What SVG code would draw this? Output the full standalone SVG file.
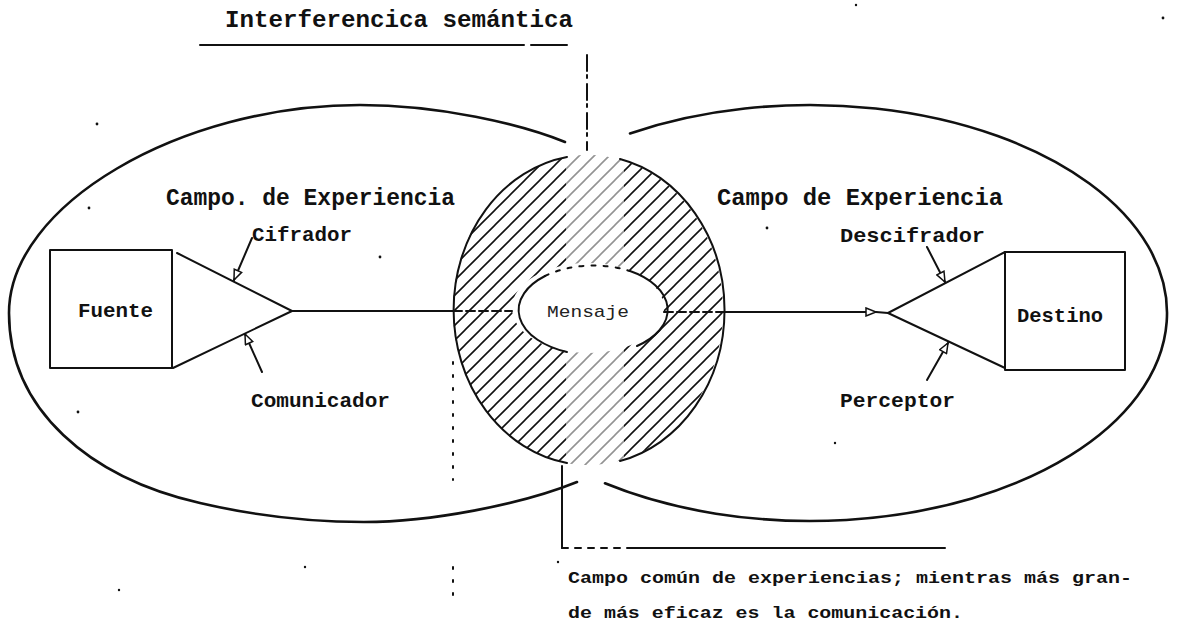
<svg xmlns="http://www.w3.org/2000/svg" width="1182" height="628" viewBox="0 0 1182 628">
  <style>
    .t { font-family: "Liberation Mono", "DejaVu Sans Mono", monospace; font-weight: bold; fill: #111; }
    .ln { fill: none; stroke: #111; stroke-width: 2; stroke-linecap: round; stroke-linejoin: round; }
    .field { fill: none; stroke: #111; stroke-width: 2.6; stroke-linecap: round; }
    .dot { fill: #111; }
  </style>
  <defs>
    <marker id="open" viewBox="0 0 12 10" refX="11" refY="5" markerWidth="13" markerHeight="10" markerUnits="userSpaceOnUse" orient="auto">
      <path d="M1,1 L11,5 L1,9 Z" fill="#fff" stroke="#111" stroke-width="1.5"/>
    </marker>
    <pattern id="hatch" patternUnits="userSpaceOnUse" width="15" height="15">
      <path d="M0,15 L15,0 M-4,4 L4,-4 M11,19 L19,11" stroke="#111" stroke-width="1.6"/>
    </pattern>
    <clipPath id="lensClip">
      <ellipse cx="588" cy="310" rx="135" ry="155"/>
    </clipPath>
  </defs>
  <rect width="1182" height="628" fill="#fff"/>

  <!-- title -->
  <g id="title">
    <text class="t" x="225" y="27" font-size="23" textLength="348" lengthAdjust="spacingAndGlyphs">Interferencica semántica</text>
    <path class="ln" d="M200,45 H524 M531,45 H567"/>
  </g>

  <!-- fields of experience -->
  <g id="field-left">
    <path class="field" d="M565,142 C520,124 440,105 360,105 C180,105 9,205 9,313 C9,410 90,478 200,503 C260,517 310,522 364,522 C430,522 520,505 577,482"/>
    <text class="t" x="166" y="205" font-size="23" textLength="289" lengthAdjust="spacingAndGlyphs">Campo. de Experiencia</text>
  </g>
  <g id="field-right">
    <path class="field" d="M630,133.4 A357,208 0 1 1 605,483.3"/>
    <text class="t" x="717" y="205" font-size="23" textLength="286" lengthAdjust="spacingAndGlyphs">Campo de Experiencia</text>
  </g>

  <!-- common field (hatched) -->
  <g id="node-mensaje">
    <ellipse cx="588" cy="310" rx="135" ry="155" fill="url(#hatch)"/>
    <rect x="566" y="150" width="58" height="320" fill="#fff" opacity="0.55" clip-path="url(#lensClip)"/>
    <ellipse cx="588" cy="308" rx="76" ry="45" fill="#fff"/>
    <path class="ln" d="M567,157 A135,155 0 0 0 567,463"/>
    <path class="ln" d="M620,159 A135,155 0 0 1 620,461"/>
    <path class="ln" stroke-width="1.6" d="M545,276 A76,45 0 0 0 567,352"/>
    <path class="ln" stroke-width="1.6" d="M630,271 A76,45 0 0 1 637,346"/>
    <path class="ln" stroke-width="1.3" stroke-dasharray="4,8" d="M545,276 A76,45 0 0 1 630,271"/>
    <text x="588" y="317" font-family="Liberation Mono, monospace" font-size="17" fill="#222" text-anchor="middle" textLength="82" lengthAdjust="spacingAndGlyphs">Mensaje</text>
  </g>

  <!-- source -->
  <g id="node-fuente">
    <rect class="ln" x="50" y="250" width="122" height="118"/>
    <path class="ln" d="M177,253 L292,311 L173,368"/>
    <text class="t" x="78" y="317" font-size="21" textLength="75" lengthAdjust="spacingAndGlyphs">Fuente</text>
  </g>
  <g id="label-cifrador">
    <text class="t" x="252" y="241" font-size="21" textLength="100" lengthAdjust="spacingAndGlyphs">Cifrador</text>
  </g>
  <g id="label-comunicador">
    <text class="t" x="251" y="407" font-size="21" textLength="139" lengthAdjust="spacingAndGlyphs">Comunicador</text>
  </g>

  <!-- destination -->
  <g id="node-destino">
    <rect class="ln" x="1005" y="252" width="120" height="118"/>
    <path class="ln" d="M1005,252 L888,313 L1005,368"/>
    <text class="t" x="1017" y="322" font-size="21" textLength="86" lengthAdjust="spacingAndGlyphs">Destino</text>
  </g>
  <g id="label-descifrador">
    <text class="t" x="840" y="242" font-size="21" textLength="145" lengthAdjust="spacingAndGlyphs">Descifrador</text>
  </g>
  <g id="label-perceptor">
    <text class="t" x="840" y="407" font-size="21" textLength="115" lengthAdjust="spacingAndGlyphs">Perceptor</text>
  </g>

  <!-- connectors -->
  <g id="connectors">
    <path class="ln" d="M292,311 H453"/>
    <path class="ln" stroke-dasharray="9,4" d="M453,311 H512"/>
    <path class="ln" stroke-dasharray="9,4" d="M664,312 H722"/>
    <path class="ln" d="M722,312 H876" marker-end="url(#open)"/>
    <path class="ln" d="M876,312 L888,313"/>
    <path class="ln" stroke-width="1.8" d="M252,238 L234,280" marker-end="url(#open)"/>
    <path class="ln" stroke-width="1.8" d="M262,372 L245,334" marker-end="url(#open)"/>
    <path class="ln" stroke-width="1.8" d="M927,247 L945,282" marker-end="url(#open)"/>
    <path class="ln" stroke-width="1.8" d="M927,380 L948,343" marker-end="url(#open)"/>
    <path class="ln" stroke-width="1.6" stroke-dasharray="16,4,3,6" d="M587,55 V150"/>
    <path class="ln" stroke-width="2.4" stroke-dasharray="2,11" d="M453,362 V480 M453,567 V595"/>
    <path class="ln" d="M562,466 V548"/>
    <path class="ln" stroke-dasharray="6,7" d="M562,548 H627"/>
    <path class="ln" d="M627,548 H945"/>
  </g>

  <!-- note -->
  <g id="note">
    <text class="t" x="568" y="583" font-size="17" textLength="564" lengthAdjust="spacingAndGlyphs">Campo común de experiencias; mientras más gran-</text>
    <text class="t" x="568" y="618" font-size="17" textLength="395" lengthAdjust="spacingAndGlyphs">de más eficaz es la comunicación.</text>
  </g>

  <!-- scan specks -->
  <g id="specks">
    <circle class="dot" cx="97" cy="124" r="1.4"/>
    <circle class="dot" cx="89" cy="208" r="1.4"/>
    <circle class="dot" cx="78" cy="412" r="1.4"/>
    <circle class="dot" cx="380" cy="257" r="1.4"/>
    <circle class="dot" cx="767" cy="228" r="1.4"/>
    <circle class="dot" cx="835" cy="443" r="1.2"/>
    <circle class="dot" cx="305" cy="567" r="1.2"/>
    <circle class="dot" cx="119" cy="590" r="1.2"/>
    <circle class="dot" cx="558" cy="562" r="1.2"/>
    <circle class="dot" cx="1163" cy="18" r="1.4"/>
    <circle class="dot" cx="856" cy="5" r="1.2"/>
  </g>
</svg>
